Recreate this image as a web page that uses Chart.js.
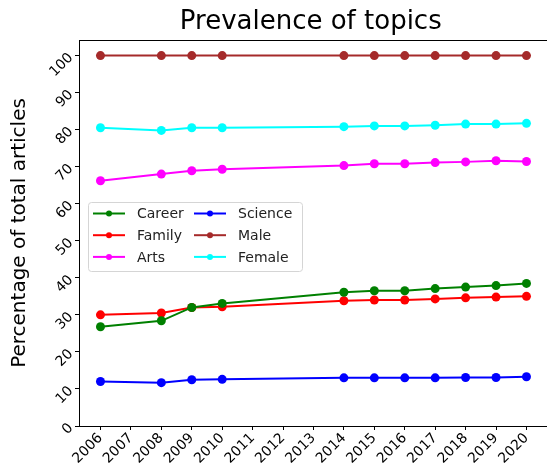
<!DOCTYPE html>
<html>
<head>
<meta charset="utf-8">
<script src="https://cdn.jsdelivr.net/npm/chart.js@4"></script>
<style>
  html, body { margin: 0; padding: 0; background: #fff; }
  #wrap { width: 547px; height: 472px; }
</style>
</head>
<body>
<div id="wrap"><canvas id="chart"></canvas></div>
<script>
const years = [2006, 2008, 2009, 2010, 2014, 2015, 2016, 2017, 2018, 2019, 2020]

const career = [26.8, 28.4, 32.0, 33.1, 36.1, 36.5, 36.5, 37.1, 37.5, 37.9, 38.5]
const family = [30.0, 30.5, 32.0, 32.2, 33.8, 34.0, 34.0, 34.3, 34.6, 34.8, 35.0]
const arts = [66.2, 68.0, 68.9, 69.3, 70.3, 70.8, 70.8, 71.1, 71.3, 71.6, 71.4]
const science = [12.0, 11.7, 12.5, 12.6, 13.0, 13.0, 13.0, 13.0, 13.1, 13.1, 13.3]
const male = [100, 100, 100, 100, 100, 100, 100, 100, 100, 100, 100]
const female = [80.5, 79.8, 80.5, 80.5, 80.8, 81.0, 81.0, 81.2, 81.5, 81.5, 81.7]

const seriesNames = ['Career', 'Family', 'Arts', 'Science', 'Male', 'Female']
const seriesColors = ['green', 'red', 'magenta', 'blue', 'brown', 'cyan']
const seriesValues = [career, family, arts, science, male, female]

const font = 'DejaVu Sans'

function makeDataset(i) {
    return {
        label: seriesNames[i],
        data: years.map((y, j) => ({ x: y, y: seriesValues[i][j] })),
        borderColor: seriesColors[i],
        backgroundColor: seriesColors[i],
        borderWidth: 2,
        pointRadius: 4.5,
        pointHoverRadius: 4.5,
        pointBorderWidth: 0,
        tension: 0
    }
}

// matplotlib style legend, filled column by column
const legendBox = {
    id: 'legendBox',
    afterDraw(chart) {
        const ctx = chart.ctx
        const area = chart.chartArea
        const x0 = area.left + 9
        const y0 = 202
        const w = 214
        const h = 69
        ctx.save()
        ctx.fillStyle = 'rgba(255,255,255,0.8)'
        ctx.strokeStyle = '#d5d5d5'
        ctx.lineWidth = 1
        ctx.beginPath()
        ctx.roundRect(x0 + 0.5, y0 + 0.5, w, h, 3)
        ctx.fill()
        ctx.stroke()
        ctx.font = '14px "' + font + '"'
        ctx.textBaseline = 'middle'
        seriesNames.forEach((name, i) => {
            const col = Math.floor(i / 3)
            const row = i % 3
            const hx = x0 + 5 + col * 101
            const hy = y0 + 11.5 + row * 21.7
            ctx.strokeStyle = seriesColors[i]
            ctx.fillStyle = seriesColors[i]
            ctx.lineWidth = 2
            ctx.beginPath()
            ctx.moveTo(hx, hy)
            ctx.lineTo(hx + 32, hy)
            ctx.stroke()
            ctx.beginPath()
            ctx.arc(hx + 16, hy, 3, 0, Math.PI * 2)
            ctx.fill()
            ctx.fillStyle = '#222'
            ctx.fillText(name, hx + 44, hy + 1)
        })
        ctx.restore()
    }
}

// top and bottom spines run off the right edge, like the original
const frame = {
    id: 'frame',
    afterDraw(chart) {
        const ctx = chart.ctx
        const a = chart.chartArea
        const w = chart.width
        ctx.save()
        ctx.strokeStyle = '#000'
        ctx.lineWidth = 1
        ctx.beginPath()
        ctx.moveTo(Math.round(a.left) + 0.5, Math.round(a.top) + 0.5)
        ctx.lineTo(w, Math.round(a.top) + 0.5)
        ctx.moveTo(Math.round(a.left), Math.round(a.bottom) + 0.5)
        ctx.lineTo(w, Math.round(a.bottom) + 0.5)
        ctx.stroke()
        ctx.restore()
    }
}

new Chart(document.getElementById('chart'), {
    type: 'line',
    data: {
        datasets: seriesNames.map((_, i) => makeDataset(i))
    },
    options: {
        responsive: true,
        maintainAspectRatio: false,
        animation: false,
        layout: { padding: { left: 0, right: -12, top: 0, bottom: 0 } },
        plugins: {
            legend: { display: false },
            tooltip: { enabled: false },
            title: {
                display: true,
                text: 'Prevalence of topics',
                fullSize: false,
                color: '#000',
                font: { family: font, size: 26, weight: 'normal' },
                padding: { top: 7, bottom: 1.8 }
            }
        },
        scales: {
            x: {
                type: 'linear',
                min: 2005.294,
                max: 2020.527,
                afterFit: s => {
                    s.height = 46
                    s.paddingRight = 0
                    s.paddingLeft = 0
                },
                afterBuildTicks: s => {
                    s.ticks = []
                    for (let y = 2006; y <= 2020; y++) s.ticks.push({ value: y })
                },
                ticks: {
                    color: '#000',
                    font: { family: font, size: 14 },
                    minRotation: 45,
                    maxRotation: 45,
                    padding: 0,
                    callback: v => String(v)
                },
                grid: { display: true, drawOnChartArea: false, drawTicks: true, tickLength: 4, color: '#000' },
                border: { display: true, color: '#000' }
            },
            y: {
                min: 0,
                max: 104.2,
                afterFit: s => { s.width = 79 },
                afterBuildTicks: s => {
                    s.ticks = []
                    for (let v = 0; v <= 100; v += 10) s.ticks.push({ value: v })
                },
                title: {
                    display: true,
                    text: 'Percentage of total articles',
                    color: '#000',
                    font: { family: font, size: 20 },
                    padding: { top: 8, bottom: 4 }
                },
                ticks: {
                    color: '#000',
                    font: { family: font, size: 14 },
                    minRotation: 45,
                    maxRotation: 45,
                    padding: 4
                },
                grid: { display: true, drawOnChartArea: false, drawTicks: true, tickLength: 4, color: '#000' },
                border: { display: true, color: '#000' }
            }
        }
    },
    plugins: [legendBox, frame]
})
</script>
</body>
</html>
